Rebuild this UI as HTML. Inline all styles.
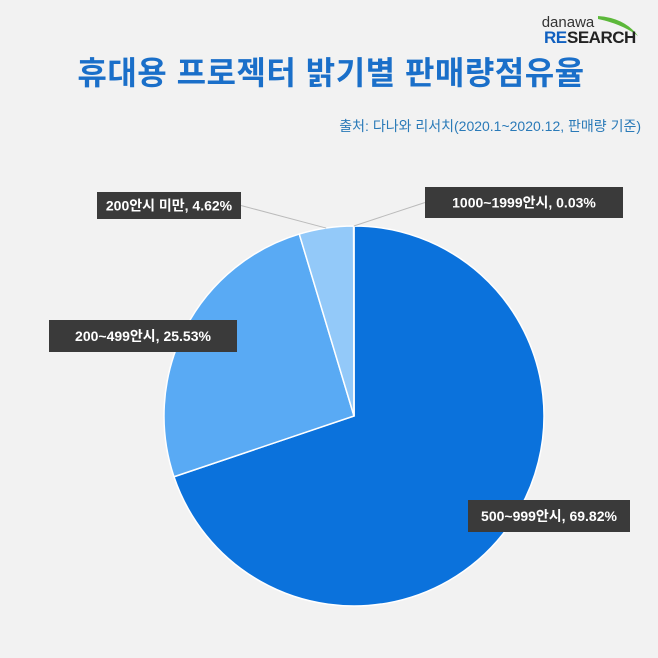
<!DOCTYPE html>
<html><head><meta charset="utf-8"><style>
body{margin:0;background:#f2f2f2;}
svg{display:block;font-family:"Liberation Sans","Noto Sans CJK KR",sans-serif;}
</style></head><body>
<svg id="c" width="658" height="658" viewBox="0 0 658 658">
<rect width="658" height="658" fill="#f2f2f2"/>
<g>
<path d="M598 16 Q625 18 638 36 Q622 24 598 19Z" fill="#5cb83a"/>
<text x="568" y="27" font-size="15" fill="#333" text-anchor="middle">danawa</text>
<text x="544" y="43" font-size="17" font-weight="bold" fill="#1060c0" letter-spacing="-0.5">RE</text>
<text x="567" y="43" font-size="17" font-weight="bold" fill="#222" letter-spacing="-0.5">SEARCH</text>
</g>
<text x="331" y="84" font-size="32" font-weight="bold" fill="#1a6fc9" text-anchor="middle" letter-spacing="0.5">휴대용 프로젝터 밝기별 판매량점유율</text>
<text x="641" y="131" font-size="14" fill="#2a7ab8" text-anchor="end">출처: 다나와 리서치(2020.1~2020.12,  판매량 기준)</text>
<g id="slices"></g>
<g id="labels"></g>
</svg>
<script>
const categories=["500~999안시","200~499안시","200안시 미만","1000~1999안시"];
const values=[69.82,25.53,4.62,0.03];
const labelText=["500~999안시, 69.82%","200~499안시, 25.53%","200안시 미만, 4.62%","1000~1999안시, 0.03%"];
const colors=["#0b72dc","#59aaf4","#93c9f9","#2f7fd0"];
const cx=354,cy=416,r=190;
const boxes=[[468,500,162,32],[49,320,188,32],[97,192,144,27],[425,187,198,31]];
const ns="http://www.w3.org/2000/svg";
const total=values.reduce((a,b)=>a+b,0);
const sg=document.getElementById('slices'),lg=document.getElementById('labels');
function pt(a,rr){return [cx+rr*Math.sin(a),cy-rr*Math.cos(a)];}
let a0=0;
values.forEach((v,i)=>{
 const a1=a0+v/total*2*Math.PI;
 const p0=pt(a0,r),p1=pt(a1,r);
 const large=(a1-a0)>Math.PI?1:0;
 const p=document.createElementNS(ns,'path');
 p.setAttribute('d',`M${cx},${cy}L${p0[0]},${p0[1]}A${r},${r} 0 ${large} 1 ${p1[0]},${p1[1]}Z`);
 p.setAttribute('fill',colors[i]);p.setAttribute('stroke','#fff');p.setAttribute('stroke-width','1.5');
 
 
 sg.appendChild(p);
 const b=boxes[i];const mid=(a0+a1)/2;
 if(i>=2){
  const e=pt(mid,r);const l=document.createElementNS(ns,'line');
  const lx=i==2?b[0]+b[2]:b[0];
  l.setAttribute('x1',e[0]);l.setAttribute('y1',e[1]);l.setAttribute('x2',lx);l.setAttribute('y2',b[1]+b[3]/2);
  l.setAttribute('stroke','#bbb');l.setAttribute('stroke-width','1');
  
  
  lg.appendChild(l);
 }
 const g=document.createElementNS(ns,'g');
 
 
 const rc=document.createElementNS(ns,'rect');
 rc.setAttribute('x',b[0]);rc.setAttribute('y',b[1]);rc.setAttribute('width',b[2]);rc.setAttribute('height',b[3]);rc.setAttribute('fill','#3a3a3a');
 const t=document.createElementNS(ns,'text');
 t.setAttribute('x',b[0]+b[2]/2);t.setAttribute('y',b[1]+b[3]/2+5);t.setAttribute('text-anchor','middle');
 t.setAttribute('fill','#fff');t.setAttribute('font-size','14');t.setAttribute('font-weight','bold');
 t.textContent=labelText[i];
 g.appendChild(rc);g.appendChild(t);lg.appendChild(g);
 a0=a1;
});
</script>
</body></html>
